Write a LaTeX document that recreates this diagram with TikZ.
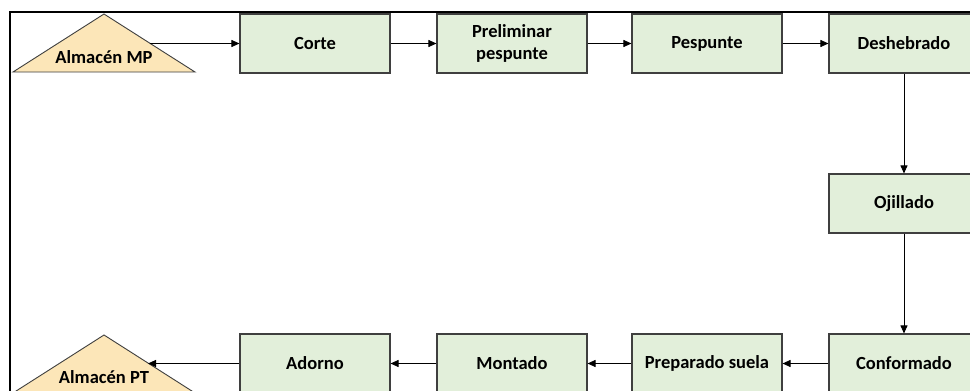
\documentclass[tikz,border=0pt]{standalone}
\usepackage{fontspec}
\setmainfont{Carlito}
\usetikzlibrary{arrows.meta}
\definecolor{boxfill}{HTML}{E2EFDA}
\definecolor{boxline}{HTML}{3F3F3F}
\definecolor{trifill}{HTML}{FCE6B8}
\tikzset{
  stepbox/.style={draw=boxline, line width=1.1pt, fill=boxfill, minimum width=150pt, minimum height=59pt,
    inner sep=0pt, align=center, font=\fontsize{18.5}{22}\selectfont\bfseries},
  lbl/.style={font=\fontsize{18.5}{22}\selectfont\bfseries, inner sep=0pt},
  flow/.style={draw=black, line width=0.9pt, -{Triangle[length=8pt,width=7pt]}}
}
\begin{document}
\begin{tikzpicture}[x=1pt,y=-1pt]
\useasboundingbox (0,0) rectangle (970,391);
\clip (0,0) rectangle (970,391);
\fill[white] (0,0) rectangle (970,391);
\draw[line width=2pt] (10,12) rectangle (990,410);
% top row
\node[stepbox] (corte) at (315,43.5) {Corte};
\node[stepbox] (prelim) at (512,43.5) {Preliminar\\pespunte};
\node[stepbox] (pespunte) at (707,43.5) {Pespunte};
\node[stepbox] (desheb) at (904,43.5) {Deshebrado};
\node[stepbox] (ojillado) at (904,203.5) {Ojillado};
\node[stepbox] (conform) at (904,363.5) {Conformado};
\node[stepbox] (suela) at (707,363.5) {Preparado suela};
\node[stepbox] (montado) at (512,363.5) {Montado};
\node[stepbox] (adorno) at (315,363.5) {Adorno};
% triangles
\draw[draw=boxline, line width=0.9pt, fill=trifill] (104,14) -- (195,72) -- (13,72) -- cycle;
\node[lbl, anchor=base] (mp) at (104,63) {Almacén MP};
\draw[draw=boxline, line width=0.9pt, fill=trifill] (104,335) -- (195,393) -- (13,393) -- cycle;
\node[lbl, anchor=base] (pt) at (104,383) {Almacén PT};
\coordinate (mpout) at (149.5,43.5);
\coordinate (ptin) at (148,363.5);
% connectors
\draw[flow] (mpout) -- (corte.west);
\draw[flow] (corte) -- (prelim);
\draw[flow] (prelim) -- (pespunte);
\draw[flow] (pespunte) -- (desheb);
\draw[flow] (desheb) -- (ojillado);
\draw[flow] (ojillado) -- (conform);
\draw[flow] (conform) -- (suela);
\draw[flow] (suela) -- (montado);
\draw[flow] (montado) -- (adorno);
\draw[flow] (adorno.west) -- (ptin);
\end{tikzpicture}
\end{document}
